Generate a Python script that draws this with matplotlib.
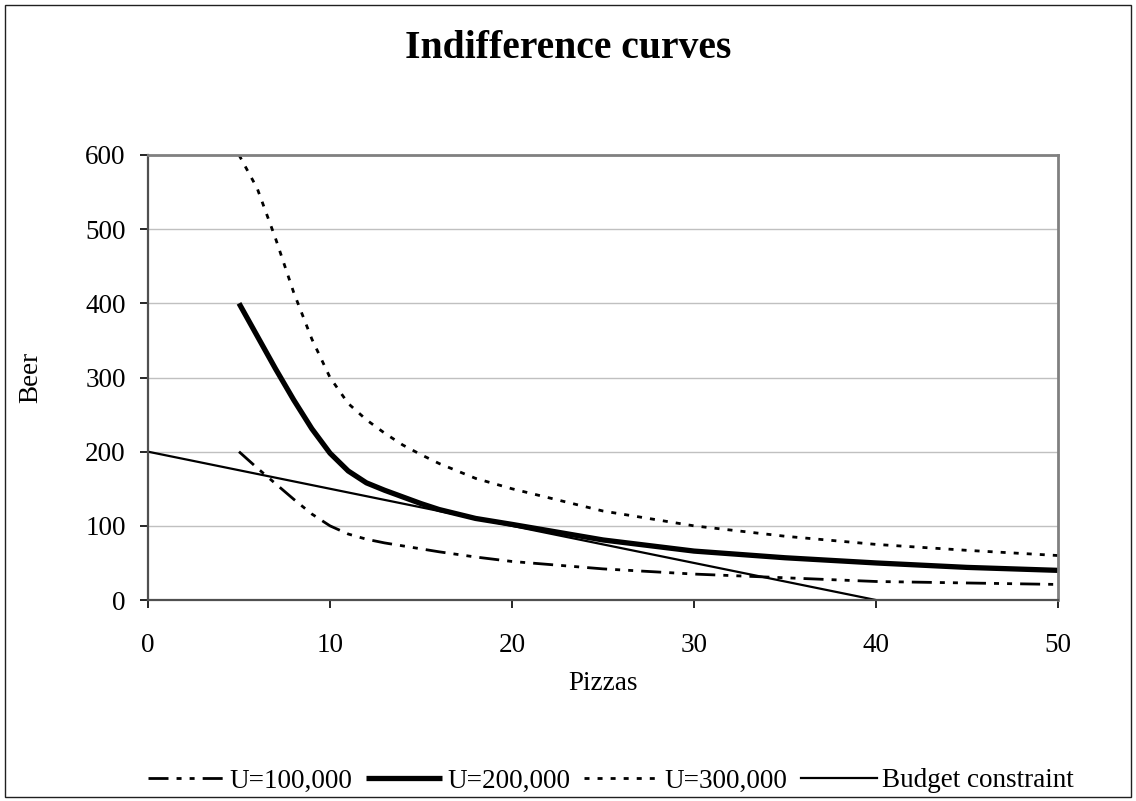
import matplotlib.pyplot as plt
from matplotlib.patches import Rectangle

plt.rcParams['font.family'] = ['Liberation Serif', 'DejaVu Serif']

# quantities of pizza at which each curve was sampled
pizzas = [5, 6, 7, 8, 9, 10, 11, 12, 13, 14, 15, 16, 18, 20, 25, 30, 35, 40, 45, 50]

# beer needed for each utility level
beer_u100 = [200, 178, 157, 136, 116, 100, 89, 82, 77, 73, 69, 65, 58, 52, 42, 35, 30, 25, 23, 21]
beer_u200 = [400, 356, 312, 270, 231, 198, 174, 158, 148, 139, 130, 122, 110, 102, 81, 66, 57, 50, 44, 40]
beer_u300 = [600, 555, 488, 415, 352, 300, 265, 243, 225, 209, 196, 184, 164, 150, 120, 100, 86, 75, 67, 60]

# budget line end points
budget_x = [0, 40]
budget_y = [200, 0]

fig = plt.figure(figsize=(11.36, 8.01), dpi=100)
ax = fig.add_axes([0.1303, 0.2509, 0.801, 0.5556])

ax.plot(pizzas, beer_u100, color='black', lw=2, ls=(0, (7.2, 2.9, 1.8, 2.9, 1.8, 2.9)), label='U=100,000')
ax.plot(pizzas, beer_u200, color='black', lw=3.8, solid_capstyle='butt', solid_joinstyle='round', label='U=200,000')
ax.plot(pizzas, beer_u300, color='black', lw=2, ls=(0, (1.8, 2.9)), label='U=300,000')
ax.plot(budget_x, budget_y, color='black', lw=1.6, label='Budget constraint')

ax.set_xlim(0, 50)
ax.set_ylim(0, 600)
ax.set_xticks(range(0, 51, 10))
ax.set_yticks(range(0, 601, 100))
ax.yaxis.grid(True, color='#c0c0c0', lw=1)
ax.set_axisbelow(True)

for side in ['top', 'right']:
    ax.spines[side].set_color('#808080')
    ax.spines[side].set_linewidth(2)
for side in ['left', 'bottom']:
    ax.spines[side].set_color('#505050')
    ax.spines[side].set_linewidth(1.6)

ax.tick_params(direction='out', length=6, width=1.2, labelsize=19.5)
ax.tick_params(axis='x', pad=18)
ax.tick_params(axis='y', pad=10)
ax.set_xlabel('Pizzas', fontsize=19.5, labelpad=9)
ax.set_ylabel('Beer', fontsize=19.5, labelpad=30)

fig.suptitle('Indifference curves', fontsize=28.5, fontweight='bold', y=0.963)

fig.legend(loc='lower center', bbox_to_anchor=(0.538, -0.021), ncol=4, frameon=False,
           fontsize=19.5, handlelength=2.8, handletextpad=0.2, columnspacing=0.5)

# outer frame around the whole figure
fig.patches.append(Rectangle((5 / 1136, 4 / 801), 1126 / 1136, 792 / 801, transform=fig.transFigure,
                             fill=False, edgecolor='#202020', lw=1))

fig.savefig('out.png', dpi=100)
